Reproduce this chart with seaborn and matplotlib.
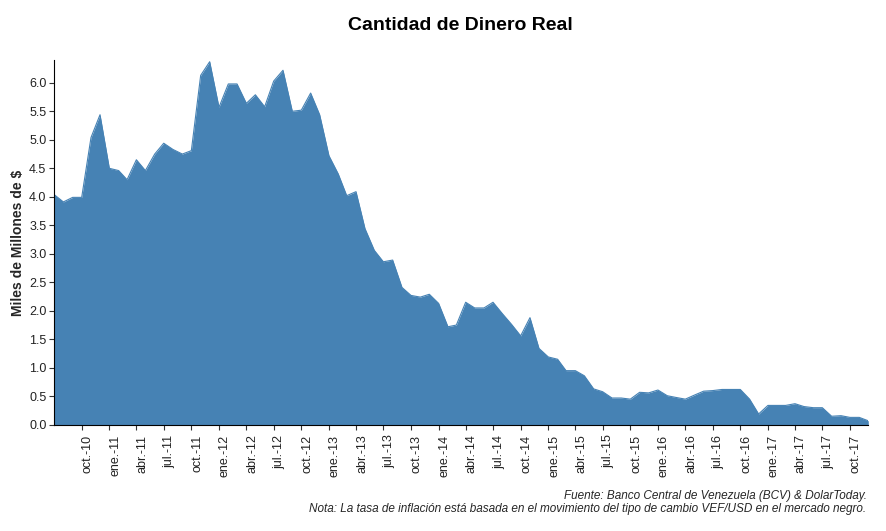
import pandas as pd
import matplotlib.pyplot as plt
import numpy as np
import seaborn as sns

# monthly real money stock, jul-2010 .. dic-2017 (miles de millones de $)
fechas = pd.date_range("2010-07-01", "2017-12-01", freq="MS")
dinero_real = [
    4.04, 3.91, 3.99, 3.99, 5.04, 5.44, 4.50, 4.46, 4.30, 4.65,
    4.46, 4.75, 4.94, 4.83, 4.75, 4.81, 6.13, 6.37, 5.57, 5.98,
    5.98, 5.64, 5.79, 5.58, 6.03, 6.22, 5.50, 5.52, 5.82, 5.44,
    4.72, 4.40, 4.02, 4.09, 3.44, 3.06, 2.86, 2.89, 2.41, 2.27,
    2.24, 2.29, 2.13, 1.72, 1.75, 2.15, 2.05, 2.05, 2.15, 1.95,
    1.76, 1.56, 1.88, 1.34, 1.19, 1.15, 0.95, 0.95, 0.86, 0.63,
    0.58, 0.47, 0.47, 0.45, 0.57, 0.56, 0.61, 0.51, 0.48, 0.45,
    0.52, 0.59, 0.60, 0.62, 0.62, 0.62, 0.45, 0.19, 0.34, 0.34,
    0.34, 0.37, 0.32, 0.30, 0.30, 0.15, 0.16, 0.13, 0.13, 0.07,
]
meses = ["ene.", "feb.", "mar.", "abr.", "may.", "jun.",
         "jul.", "ago.", "sep.", "oct.", "nov.", "dic."]

titulo = "Cantidad de Dinero Real"
eje_y = "Miles de Millones de $"
fuente = "Fuente: Banco Central de Venezuela (BCV) & DolarToday."
nota = "Nota: La tasa de inflación está basada en el movimiento del tipo de cambio VEF/USD en el mercado negro."

df = pd.DataFrame({"fecha": fechas, "dinero": dinero_real})

sns.set_style("ticks")
plt.rcParams["font.family"] = ["Liberation Sans", "DejaVu Sans"]

fig = plt.figure(figsize=(8.86, 5.31), dpi=100)
ax = fig.add_axes([0.061, 0.2, 0.919, 0.687])

sns.lineplot(data=df, x="fecha", y="dinero", color="steelblue", lw=0.8, ax=ax)
ax.fill_between(df["fecha"], 0, df["dinero"], color="steelblue", lw=0)

ax.set_xlim(df["fecha"].iloc[0], df["fecha"].iloc[-1])
ax.set_ylim(0, 6.4)
ax.set_yticks(np.arange(0, 6.01, 0.5))
ax.set_yticklabels([f"{v:.1f}" for v in np.arange(0, 6.01, 0.5)], fontsize=9, color="#222222")

# quarterly ticks: oct, ene, abr, jul (labels sit just right of the tick)
ticks = [f for f in df["fecha"] if f.month in (1, 4, 7, 10)][1:]
ax.set_xticks(ticks)
ax.set_xticklabels([f"{meses[f.month - 1]}-{f.year % 100:02d}" for f in ticks],
                   rotation=90, ha="left", fontsize=9, color="#222222")

ax.tick_params(axis="both", length=3.5, color="#333333", width=0.8)
ax.tick_params(axis="y", pad=2)
sns.despine(ax=ax)
ax.spines["left"].set_color("black")
ax.spines["bottom"].set_color("black")
ax.set_xlabel("")
ax.set_ylabel(eje_y, fontsize=10, fontweight="bold", labelpad=3)

fig.text(0.52, 0.952, titulo, ha="center", va="center", fontsize=14, fontweight="bold", color="black")
fig.text(0.978, 0.066, fuente, ha="right", va="center", fontsize=8.5, style="italic")
fig.text(0.978, 0.041, nota, ha="right", va="center", fontsize=8.5, style="italic")

fig.savefig("out.png", dpi=100)
